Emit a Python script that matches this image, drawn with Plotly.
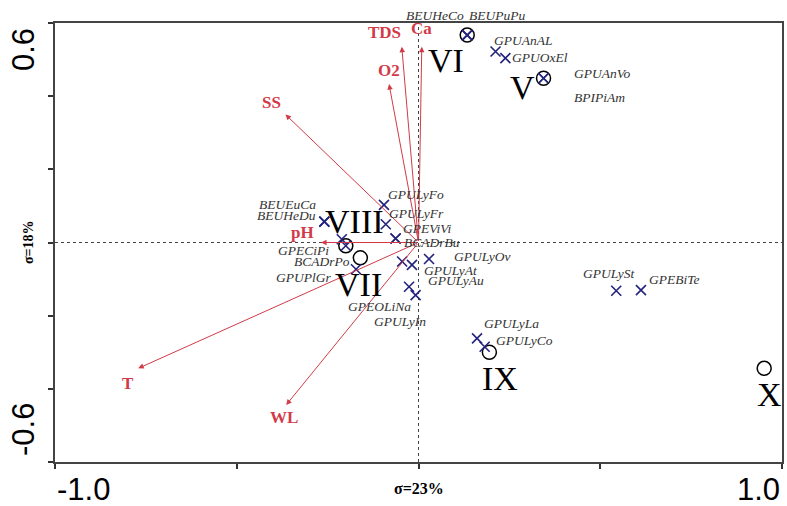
import plotly.graph_objects as go

# ---- data (ordination scores) ----
species = ["BEUHeCo", "BEUPuPu", "GPUAnAL", "GPUOxEl", "GPUAnVo", "BPIPiAm",
           "GPULyFo", "GPULyFr", "GPEViVi", "BCADrBu", "BEUEuCa", "BEUHeDu",
           "GPECiPi", "BCADrPo", "GPUPlGr", "GPULyOv", "GPULyAt", "GPULyAu",
           "GPEOLiNa", "GPULyIn", "GPULySt", "GPEBiTe", "GPULyLa", "GPULyCo"]
sp_x = [0.134, 0.134, 0.212, 0.239, 0.344, 0.344,
        -0.095, -0.090, -0.063, -0.063, -0.259, -0.259,
        -0.211, -0.200, -0.172, 0.029, -0.045, -0.018,
        -0.026, -0.008, 0.544, 0.612, 0.161, 0.182]
sp_y = [0.567, 0.567, 0.522, 0.504, 0.449, 0.449,
        0.103, 0.050, 0.011, 0.011, 0.057, 0.057,
        0.009, -0.009, -0.073, -0.045, -0.052, -0.061,
        -0.121, -0.144, -0.132, -0.130, -0.262, -0.285]

groups = ["VI", "V", "VIII", "VII", "IX", "X"]
grp_x = [0.134, 0.344, -0.200, -0.160, 0.195, 0.951]
grp_y = [0.567, 0.449, -0.009, -0.042, -0.300, -0.344]

env = ["Ca", "TDS", "O2", "SS", "pH", "T", "WL"]
env_x = [0.009, -0.046, -0.081, -0.366, -0.268, -0.771, -0.364]
env_y = [0.535, 0.535, 0.433, 0.350, 0.0, -0.344, -0.444]

x_title = "σ=23%"
y_title = "σ=18%"

# ---- label placement (pixel offsets: dx right, dy down) ----
sp_off = {
    "BEUHeCo": (-32, -20), "BEUPuPu": (30, -20), "GPUAnAL": (28, -11),
    "GPUOxEl": (35, -1), "GPUAnVo": (58, -5), "BPIPiAm": (56, 19),
    "GPULyFo": (32, -10), "GPULyFr": (31, -11), "GPEViVi": (31, -10),
    "BCADrBu": (36, 4), "BEUEuCa": (-37, -17), "BEUHeDu": (-38, -6),
    "GPECiPi": (-38, 11), "BCADrPo": (-24, 16), "GPUPlGr": (-52, 8),
    "GPULyOv": (53, -2), "GPULyAt": (49, 9), "GPULyAu": (44, 16),
    "GPEOLiNa": (-30, 20), "GPULyIn": (-16, 26), "GPULySt": (-7, -17),
    "GPEBiTe": (34, -11), "GPULyLa": (34, -15), "GPULyCo": (40, -6),
}
grp_off = {"VI": (-21, 25), "V": (-21, 9), "VIII": (9, -24), "VII": (-2, 27),
           "IX": (11, 26), "X": (5, 26)}
env_off = {"Ca": (0, -18), "TDS": (-17, -14), "O2": (0, -14), "SS": (-14, -12),
           "pH": (-19, -10), "T": (-10, 15), "WL": (-2, 13)}

RED = "#d23a48"
NAVY = "#23237e"
SERIF = "Liberation Serif, Times New Roman, serif"
SANS = "Liberation Sans, Arial, sans-serif"

fig = go.Figure()

# group centroids (open circles)
fig.add_trace(go.Scatter(
    x=grp_x, y=grp_y, mode="markers", hoverinfo="skip",
    marker=dict(symbol="circle-open", size=14, color="black",
                line=dict(width=1.5, color="black")),
    showlegend=False))

# species (x markers)
fig.add_trace(go.Scatter(
    x=sp_x, y=sp_y, mode="markers", hoverinfo="text", text=species,
    marker=dict(symbol="x-thin", size=10, color=NAVY,
                line=dict(width=1.6, color=NAVY)),
    showlegend=False))

annotations = []

# environmental arrows
for name, ex, ey in zip(env, env_x, env_y):
    annotations.append(dict(
        x=ex, y=ey, ax=0, ay=0, xref="x", yref="y", axref="x", ayref="y",
        text="", showarrow=True, arrowhead=2, arrowsize=1.1, arrowwidth=1,
        arrowcolor=RED, standoff=0, startstandoff=0))
    dx, dy = env_off[name]
    annotations.append(dict(
        x=ex, y=ey, xref="x", yref="y", text="<b>%s</b>" % name,
        showarrow=False, xshift=dx, yshift=-dy,
        font=dict(family=SERIF, size=17, color=RED)))

# species labels
for name, sx, sy in zip(species, sp_x, sp_y):
    dx, dy = sp_off[name]
    annotations.append(dict(
        x=sx, y=sy, xref="x", yref="y", text="<i>%s</i>" % name,
        showarrow=False, xshift=dx, yshift=-dy,
        font=dict(family=SERIF, size=13.5, color="#333333")))

# group labels
for name, gx, gy in zip(groups, grp_x, grp_y):
    dx, dy = grp_off[name]
    annotations.append(dict(
        x=gx, y=gy, xref="x", yref="y", text=name,
        showarrow=False, xshift=dx, yshift=-dy,
        font=dict(family=SERIF, size=34, color="black")))

# axis end labels
annotations += [
    dict(x=-1.0, y=0, xref="x", yref="paper", text="-1.0", showarrow=False,
         xanchor="left", yanchor="top", yshift=-8,
         font=dict(family=SANS, size=31, color="black")),
    dict(x=1.0, y=0, xref="x", yref="paper", text="1.0", showarrow=False,
         xanchor="right", yanchor="top", yshift=-8,
         font=dict(family=SANS, size=31, color="black")),
    dict(x=0, y=0.6, xref="paper", yref="y", text="0.6", showarrow=False,
         textangle=-90, xanchor="right", yanchor="top", xshift=-12, yshift=-3,
         font=dict(family=SANS, size=31, color="black")),
    dict(x=0, y=-0.6, xref="paper", yref="y", text="-0.6", showarrow=False,
         textangle=-90, xanchor="right", yanchor="bottom", xshift=-12, yshift=4,
         font=dict(family=SANS, size=31, color="black")),
    dict(x=0, y=0, xref="x", yref="paper", text="<b>%s</b>" % x_title,
         showarrow=False, yanchor="top", yshift=-16,
         font=dict(family=SERIF, size=16, color="black")),
    dict(x=0, y=0, xref="paper", yref="y", text="<b>%s</b>" % y_title,
         showarrow=False, textangle=-90, xanchor="right", xshift=-17,
         font=dict(family=SERIF, size=14, color="black")),
]

shapes = [
    dict(type="line", xref="x", yref="paper", x0=0, x1=0, y0=0, y1=1,
         line=dict(color="#444444", width=1, dash="dot"), layer="below"),
    dict(type="line", xref="paper", yref="y", x0=0, x1=1, y0=0, y1=0,
         line=dict(color="#444444", width=1, dash="dot"), layer="below"),
]

fig.update_layout(
    width=787, height=506,
    margin=dict(l=55, r=3, t=23, b=44),
    paper_bgcolor="white", plot_bgcolor="white",
    annotations=annotations, shapes=shapes,
    xaxis=dict(range=[-1.0, 1.0], showgrid=False, zeroline=False,
               showline=True, mirror=True, linecolor="#444444", linewidth=2,
               ticks="outside", ticklen=5, tickwidth=1.5, tickcolor="#333333",
               tickvals=[-1.0, -0.5, 0, 0.5, 1.0], showticklabels=False),
    yaxis=dict(range=[-0.6, 0.6], showgrid=False, zeroline=False,
               showline=True, mirror=True, linecolor="#444444", linewidth=2,
               ticks="outside", ticklen=5, tickwidth=1.5, tickcolor="#333333",
               tickvals=[-0.6, -0.4, -0.2, 0, 0.2, 0.4, 0.6], showticklabels=False),
)

fig.write_html("out.html")
